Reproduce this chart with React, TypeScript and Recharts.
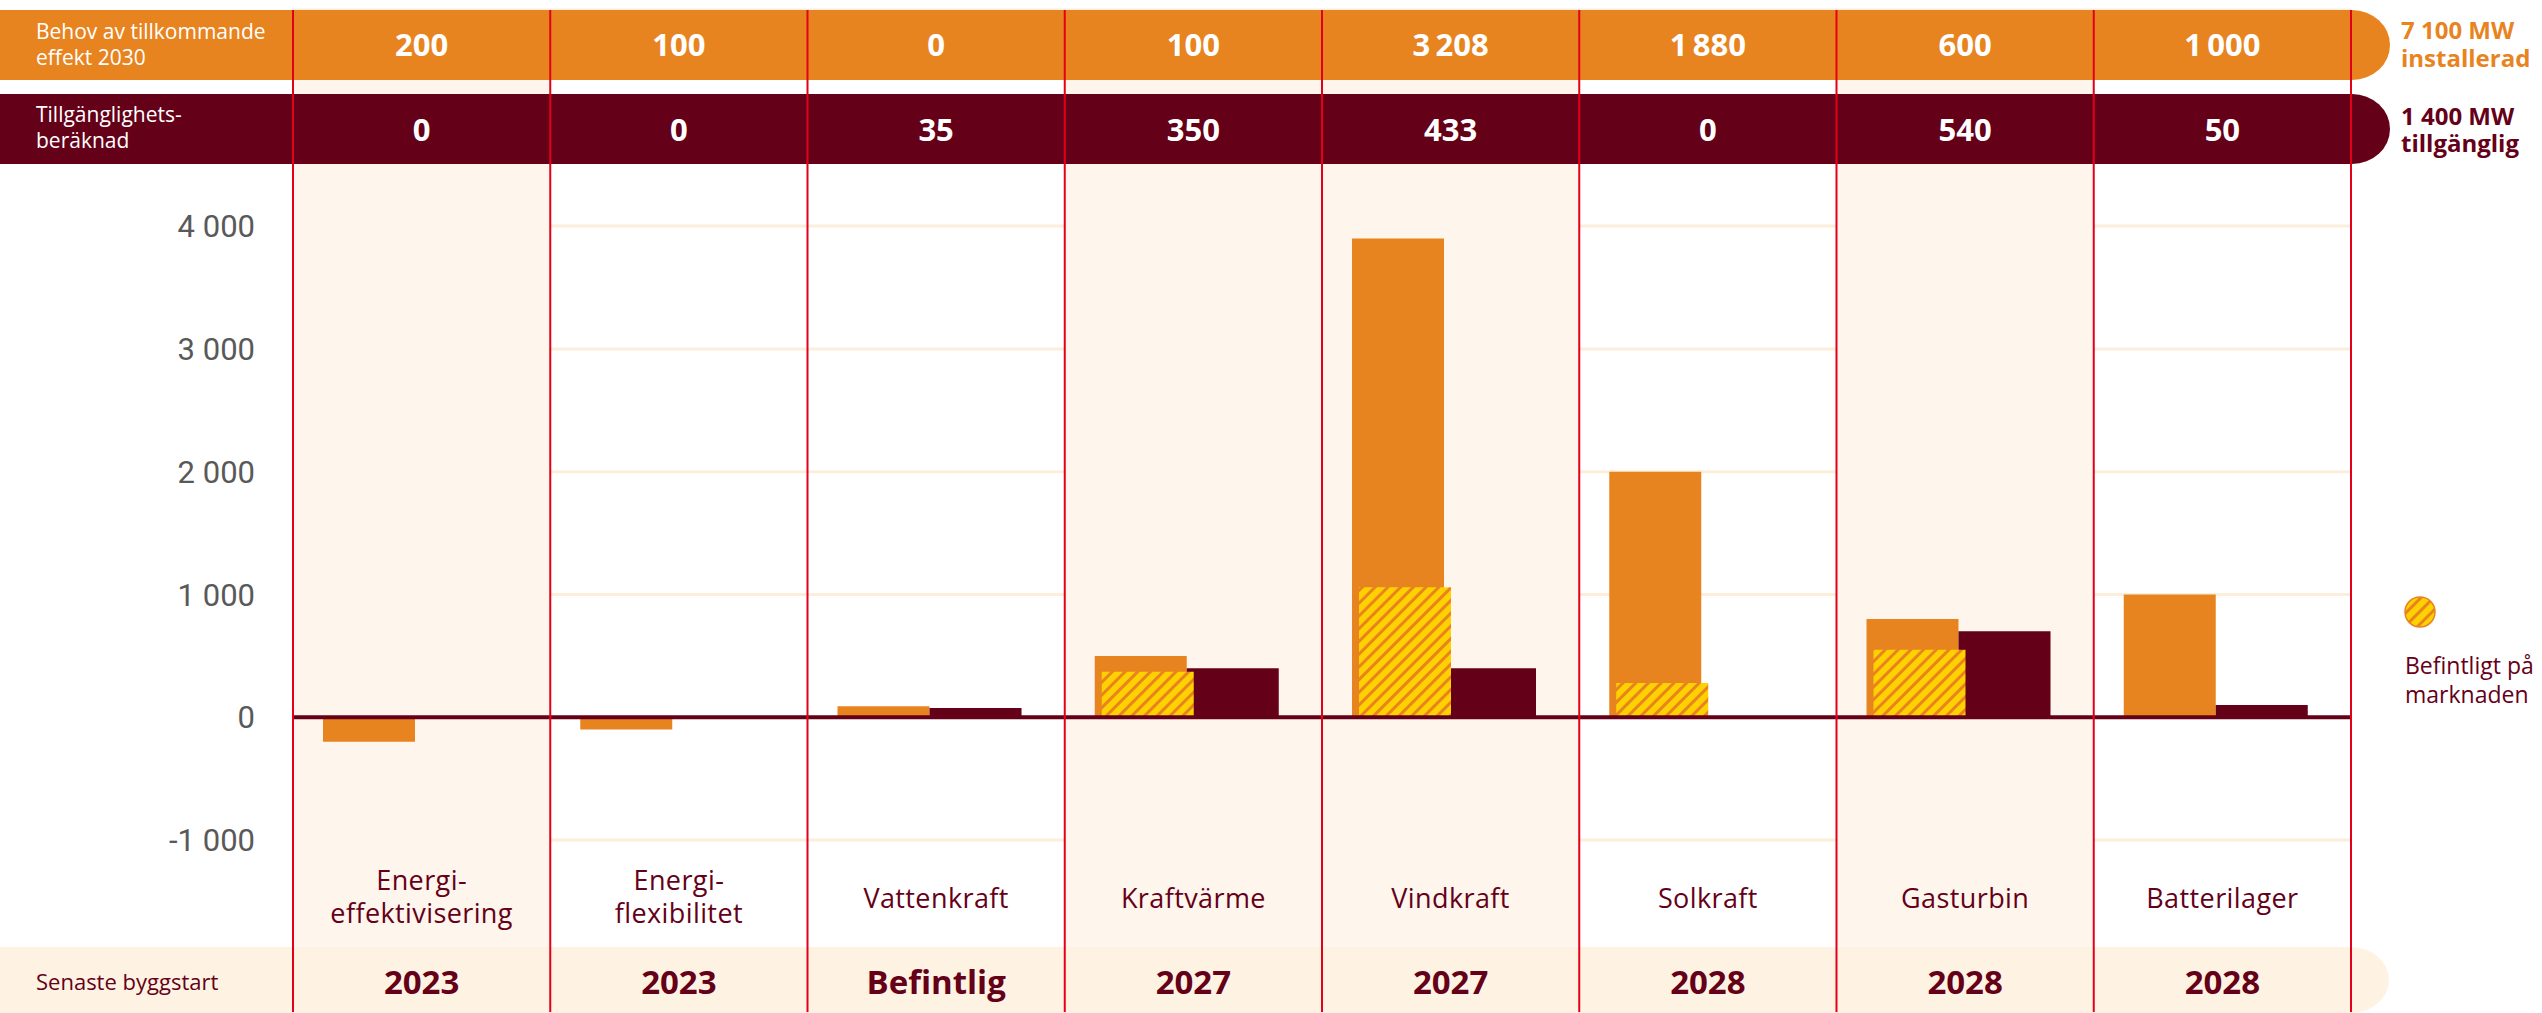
import React from "react";
import { BarChart, Bar, XAxis, YAxis, CartesianGrid, ReferenceArea, ReferenceLine, Customized, Rectangle } from "recharts";

const categories = ["Energieffektivisering", "Energiflexibilitet", "Vattenkraft", "Kraftvärme", "Vindkraft", "Solkraft", "Gasturbin", "Batterilager"];
const categoryLines = [["Energi-", "effektivisering"], ["Energi-", "flexibilitet"], ["Vattenkraft"], ["Kraftvärme"], ["Vindkraft"], ["Solkraft"], ["Gasturbin"], ["Batterilager"]];
const installedMw = [-200, -100, 90, 500, 3900, 2000, 800, 1000];
const availableMw = [0, 0, 75, 400, 400, 0, 700, 100];
const existingMw = [null, null, null, 370, 1060, 280, 550, null];
const needRow = [200, 100, 0, 100, 3208, 1880, 600, 1000];
const availRow = [0, 0, 35, 350, 433, 0, 540, 50];
const buildStart = ["2023", "2023", "Befintlig", "2027", "2027", "2028", "2028", "2028"];
const shadedCategories = ["Energieffektivisering", "Kraftvärme", "Vindkraft", "Gasturbin"];
const yTicks = [-1000, 0, 1000, 2000, 3000, 4000];

const data = categories.map((name, i) => ({
  name,
  installed: installedMw[i],
  available: availableMw[i],
  existing: existingMw[i],
}));

const ORANGE = "#E8841F";
const MAROON = "#650019";
const RED = "#E2001A";
const SHADE = "#FEF5EC";
const CREAM = "#FEF3E2";
const FONT = "'Open Sans', 'Noto Sans', sans-serif";

// layout of the plot (px) and its value range
const W = 2542;
const H = 1013;
const TOP = 10;
const BOTTOM_AXIS = 1;
const Y_MIN = -2400;
const Y_MAX = 5760;
const plotH = H - TOP - BOTTOM_AXIS;
const pxToValue = (py: number) => Y_MAX - ((py - TOP) * (Y_MAX - Y_MIN)) / plotH;

// column shading is only visible between / outside the table bands
const shadeSpans = [
  [80, 94],
  [164, 947],
];

const fmt = (n: number, sep = " ") => String(n).replace(/\B(?=(\d{3})+(?!\d))/g, sep);

// bars sit a little left of the column centre in the original
const shifted = (props: any) => <Rectangle {...props} x={props.x - 7} />;

const CategoryTick = (props: any) => {
  const { x, payload } = props;
  const i = categories.indexOf(payload.value);
  if (i < 0) return null;
  const lines = categoryLines[i];
  const label = { fill: MAROON, fontSize: 27, letterSpacing: 0.4 };
  return (
    <g fontFamily={FONT} textAnchor="middle">
      <text x={x} y={56} fill="#fff" fontSize={31} fontWeight={700}>{fmt(needRow[i], "\u2009")}</text>
      <text x={x} y={141} fill="#fff" fontSize={31} fontWeight={700}>{fmt(availRow[i], "\u2009")}</text>
      {lines.length === 2 ? (
        <>
          <text x={x} y={890} {...label}>{lines[0]}</text>
          <text x={x} y={923} {...label}>{lines[1]}</text>
        </>
      ) : (
        <text x={x} y={908} {...label}>{lines[0]}</text>
      )}
      <text x={x} y={994} fill={MAROON} fontSize={33} fontWeight={700}>{buildStart[i]}</text>
    </g>
  );
};

const Bands = () => (
  <g fontFamily={FONT}>
    <defs>
      <pattern id="hatch" patternUnits="userSpaceOnUse" width={9} height={9} patternTransform="rotate(45)">
        <rect width={9} height={9} fill="#FFD100" />
        <rect width={3} height={9} fill={ORANGE} />
      </pattern>
    </defs>
    <rect x={-60} y={10} width={2450} height={70} rx={38} ry={35} fill={ORANGE} />
    <rect x={-60} y={94} width={2450} height={70} rx={38} ry={35} fill={MAROON} />
    <rect x={-60} y={947} width={2449} height={66} rx={38} ry={33} fill={CREAM} />
    <text x={36} y={39} fill="#fff" fontSize={21}>Behov av tillkommande</text>
    <text x={36} y={65} fill="#fff" fontSize={21}>effekt 2030</text>
    <text x={36} y={122} fill="#fff" fontSize={21}>Tillgänglighets-</text>
    <text x={36} y={148} fill="#fff" fontSize={21}>beräknad</text>
    <text x={36} y={990} fill={MAROON} fontSize={22}>Senaste byggstart</text>
    <text x={2401} y={39} fill={ORANGE} fontSize={24} fontWeight={700}>7 100 MW</text>
    <text x={2401} y={67} fill={ORANGE} fontSize={24} fontWeight={700}>installerad</text>
    <text x={2401} y={125} fill={MAROON} fontSize={24} fontWeight={700}>1 400 MW</text>
    <text x={2401} y={152} fill={MAROON} fontSize={24} fontWeight={700}>tillgänglig</text>
    <circle cx={2420} cy={612} r={15} fill="url(#hatch)" stroke={ORANGE} strokeWidth={1.5} />
    <text x={2405} y={674} fill={MAROON} fontSize={23}>Befintligt på</text>
    <text x={2405} y={703} fill={MAROON} fontSize={23}>marknaden</text>
  </g>
);

export default function App() {
  return (
    <div>
      <style>{"body{margin:0}"}</style>
      <BarChart
        width={W}
        height={H}
        data={data}
        margin={{ top: TOP, right: 191, left: 233, bottom: 0 }}
        barSize={92}
        barGap={0}
      >
        <Customized component={<Bands />} />
        {shadedCategories.map((c) =>
          shadeSpans.map(([a, b]) => (
            <ReferenceArea
              key={c + a}
              x1={c}
              x2={c}
              y1={pxToValue(b)}
              y2={pxToValue(a)}
              fill={SHADE}
              fillOpacity={1}
              stroke="none"
            />
          ))
        )}
        <CartesianGrid vertical={false} stroke="#FCEEDB" strokeWidth={3} />
        <XAxis dataKey="name" height={BOTTOM_AXIS} axisLine={false} tickLine={false} interval={0} tick={<CategoryTick />} />
        <XAxis xAxisId="h" dataKey="name" hide />
        <YAxis
          width={60}
          domain={[Y_MIN, Y_MAX]}
          ticks={yTicks}
          axisLine={false}
          tickLine={false}
          tickMargin={32}
          tickFormatter={(v: number) => fmt(v)}
          tick={{ fill: "#595959", fontSize: 31, fontFamily: "Roboto, sans-serif" }}
        />
        <Bar dataKey="installed" fill={ORANGE} shape={shifted} isAnimationActive={false} />
        <Bar dataKey="available" fill={MAROON} shape={shifted} isAnimationActive={false} />
        <Bar xAxisId="h" dataKey="existing" fill="url(#hatch)" isAnimationActive={false} />
        <Bar xAxisId="h" dataKey="pad" fill="none" isAnimationActive={false} />
        <ReferenceLine y={0} stroke={MAROON} strokeWidth={4} />
        {categories.map((c) => (
          <ReferenceLine key={c} x={c} position="start" stroke={RED} strokeWidth={2} />
        ))}
        <ReferenceLine x={categories[categories.length - 1]} position="end" stroke={RED} strokeWidth={2} />
      </BarChart>
    </div>
  );
}
